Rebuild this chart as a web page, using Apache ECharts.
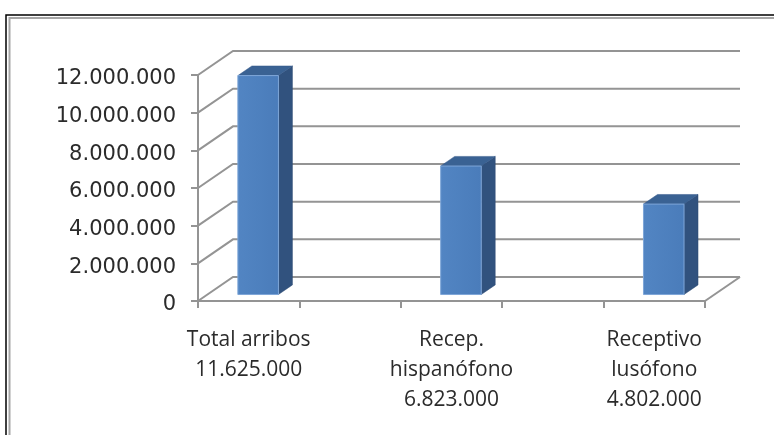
<!DOCTYPE html>
<html>
<head>
<meta charset="utf-8">
<script src="https://cdn.jsdelivr.net/npm/echarts@6/dist/echarts.min.js"></script>
<style>
  html, body { margin: 0; padding: 0; background: #fff; }
  #chart { width: 774px; height: 435px; }
</style>
</head>
<body>
<div id="chart"></div>
<script>
// Tourist arrivals by market
const categories = ['Total arribos', 'Recep.\nhispanófono', 'Receptivo\nlusófono'];
const arrivals = [11625000, 6823000, 4802000];
// category slots on the floor; the empty ones leave gaps between bars
const slotCount = 5;
const barSlots = [0, 2, 4];
// value axis
const yMin = 0;
const yMax = 12000000;
const yStep = 2000000;

// pseudo-3D depth of the plot box (px) and of the bars within it
const DEPTH_X = 35, DEPTH_Y = -24;
const BAR_FRONT = 0.27, BAR_BACK = 0.67, BAR_WIDTH = 0.4;
const GRID_COLOR = '#949494';

const fmt = n => String(n).replace(/\B(?=(\d{3})+(?!\d))/g, '.');

const slotLabels = new Array(slotCount).fill('');
barSlots.forEach((s, i) => { slotLabels[s] = categories[i] + '\n' + fmt(arrivals[i]); });

const tickValues = [];
for (let v = yMin; v <= yMax; v += yStep) tickValues.push(v);

const chart = echarts.init(document.getElementById('chart'), null, { renderer: 'canvas' });

chart.setOption({
  animation: false,
  backgroundColor: '#fff',
  graphic: [
    { type: 'rect', silent: true, shape: { x: 6, y: 15, width: 900, height: 600 },
      style: { fill: 'none', stroke: '#000', lineWidth: 1.5 } },
    { type: 'rect', silent: true, shape: { x: 9.5, y: 18, width: 900, height: 600 },
      style: { fill: 'none', stroke: '#a6a6a6', lineWidth: 2 } }
  ],
  grid: { left: 198, top: 75, width: 507, height: 226 },
  xAxis: {
    type: 'category',
    data: slotLabels,
    boundaryGap: true,
    axisLine: { lineStyle: { color: GRID_COLOR, width: 2 } },
    axisTick: { show: true, length: 7, interval: 0, lineStyle: { color: GRID_COLOR, width: 2 } },
    axisLabel: {
      interval: 0, margin: 24,
      fontFamily: 'Open Sans', fontSize: 21, lineHeight: 30, color: '#2b2b2b', align: 'center'
    },
    splitLine: { show: false }
  },
  yAxis: {
    type: 'value',
    min: yMin, max: yMax, interval: yStep,
    axisLine: { show: true, lineStyle: { color: GRID_COLOR, width: 2 } },
    axisTick: { show: true, length: 7, lineStyle: { color: GRID_COLOR, width: 2 } },
    axisLabel: {
      margin: 22, formatter: v => '{n|' + fmt(v) + '}',
      rich: {
        n: { fontFamily: 'DejaVu Sans', fontSize: 21, color: '#2b2b2b', padding: [8, 0, 0, 0] }
      }
    },
    splitLine: { show: false }
  },
  series: [
    {
      // back wall and floor grid lines
      type: 'custom',
      clip: false,
      z: 1,
      silent: true,
      data: tickValues.map(v => [0, v]),
      renderItem: (params, api) => {
        const cs = params.coordSys;
        const y = api.coord([0, api.value(1)])[1];
        const style = { stroke: GRID_COLOR, lineWidth: 2, fill: null };
        const children = [
          { type: 'polyline', shape: { points: [
              [cs.x, y], [cs.x + DEPTH_X, y + DEPTH_Y], [cs.x + cs.width + DEPTH_X, y + DEPTH_Y]
            ] }, style }
        ];
        if (api.value(1) === yMin) {
          children.push({ type: 'line', shape: {
            x1: cs.x + cs.width, y1: y, x2: cs.x + cs.width + DEPTH_X, y2: y + DEPTH_Y
          }, style });
        }
        return { type: 'group', children };
      }
    },
    {
      // 3D-looking columns
      type: 'custom',
      clip: false,
      z: 5,
      data: arrivals.map((v, i) => [barSlots[i], v]),
      renderItem: (params, api) => {
        const base = api.coord([api.value(0), 0]);
        const top = api.coord([api.value(0), api.value(1)]);
        const slotW = api.size([1, 0])[0];
        const w = slotW * BAR_WIDTH;
        const fx = DEPTH_X * BAR_FRONT, fy = DEPTH_Y * BAR_FRONT;
        const dx = DEPTH_X * (BAR_BACK - BAR_FRONT), dy = DEPTH_Y * (BAR_BACK - BAR_FRONT);
        const l = base[0] - w / 2 + fx, r = base[0] + w / 2 + fx;
        const b = base[1] + fy, t = top[1] + fy;
        return {
          type: 'group',
          children: [
            { type: 'polygon', shape: { points: [[r, b], [r + dx, b + dy], [r + dx, t + dy], [r, t]] },
              style: { fill: '#31527e', stroke: '#2c4a72', lineWidth: 0.5 } },
            { type: 'polygon', shape: { points: [[l, t], [l + dx, t + dy], [r + dx, t + dy], [r, t]] },
              style: { fill: '#3a6293', stroke: '#35598a', lineWidth: 0.5 } },
            { type: 'rect', shape: { x: l, y: t, width: r - l, height: b - t },
              style: {
                fill: new echarts.graphic.LinearGradient(0, 0, 1, 0, [
                  { offset: 0, color: '#5285c3' },
                  { offset: 1, color: '#4a7cba' }
                ]),
                stroke: '#7ea6d8', lineWidth: 1
              } }
          ]
        };
      }
    }
  ]
});
</script>
</body>
</html>
